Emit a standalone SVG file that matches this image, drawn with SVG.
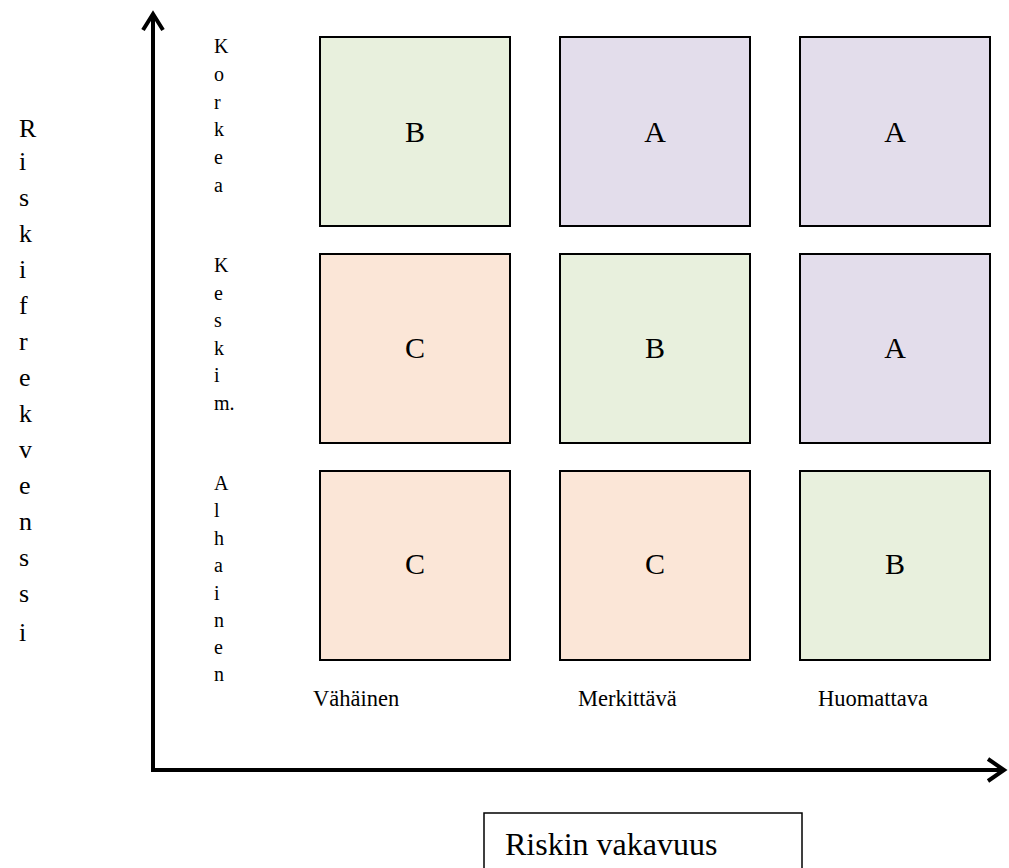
<svg xmlns="http://www.w3.org/2000/svg" width="1009" height="868" viewBox="0 0 1009 868">
<style>
text{font-family:"Liberation Serif","Times New Roman",serif;fill:#000}
.cell{stroke:#000;stroke-width:2}
.g{fill:#E8F0DD}
.p{fill:#E3DDEB}
.o{fill:#FBE6D7}
.lt{font-size:30px;text-anchor:middle}
.vl{font-size:20px}
.rl{font-size:26px}
.bl{font-size:22.5px}
.axis{stroke:#000;stroke-width:4;fill:none}
</style>
<g id="axes">
<path class="axis" d="M153,770 L153,14 M143,30 L153,14 L163,30"/>
<path class="axis" d="M151,770 L1004,770 M988,759 L1004,770 L988,781"/>
</g>
<g id="cell-r1c1"><rect class="cell g" x="320" y="37" width="190" height="189"/><text class="lt" x="415" y="142">B</text></g>
<g id="cell-r1c2"><rect class="cell p" x="560" y="37" width="190" height="189"/><text class="lt" x="655" y="142">A</text></g>
<g id="cell-r1c3"><rect class="cell p" x="800" y="37" width="190" height="189"/><text class="lt" x="895" y="142">A</text></g>
<g id="cell-r2c1"><rect class="cell o" x="320" y="254" width="190" height="189"/><text class="lt" x="415" y="358">C</text></g>
<g id="cell-r2c2"><rect class="cell g" x="560" y="254" width="190" height="189"/><text class="lt" x="655" y="358">B</text></g>
<g id="cell-r2c3"><rect class="cell p" x="800" y="254" width="190" height="189"/><text class="lt" x="895" y="358">A</text></g>
<g id="cell-r3c1"><rect class="cell o" x="320" y="471" width="190" height="189"/><text class="lt" x="415" y="574">C</text></g>
<g id="cell-r3c2"><rect class="cell o" x="560" y="471" width="190" height="189"/><text class="lt" x="655" y="574">C</text></g>
<g id="cell-r3c3"><rect class="cell g" x="800" y="471" width="190" height="189"/><text class="lt" x="895" y="574">B</text></g>
<g id="label-korkea"><text class="vl"><tspan x="214" y="53">K</tspan><tspan x="214" y="81">o</tspan><tspan x="214" y="109">r</tspan><tspan x="214" y="136">k</tspan><tspan x="214" y="164">e</tspan><tspan x="214" y="192">a</tspan></text></g>
<g id="label-keskim"><text class="vl"><tspan x="214" y="272">K</tspan><tspan x="214" y="300">e</tspan><tspan x="214" y="327">s</tspan><tspan x="214" y="355">k</tspan><tspan x="214" y="382">i</tspan><tspan x="214" y="410">m.</tspan></text></g>
<g id="label-alhainen"><text class="vl"><tspan x="214" y="490">A</tspan><tspan x="214" y="517">l</tspan><tspan x="214" y="545">h</tspan><tspan x="214" y="572">a</tspan><tspan x="214" y="600">i</tspan><tspan x="214" y="627">n</tspan><tspan x="214" y="654">e</tspan><tspan x="214" y="681">n</tspan></text></g>
<g id="label-riskifrekvenssi"><text class="rl"><tspan x="19" y="137">R</tspan><tspan x="19" y="170">i</tspan><tspan x="19" y="206">s</tspan><tspan x="19" y="242">k</tspan><tspan x="19" y="278">i</tspan><tspan x="19" y="314">f</tspan><tspan x="19" y="350">r</tspan><tspan x="19" y="386">e</tspan><tspan x="19" y="422">k</tspan><tspan x="19" y="458">v</tspan><tspan x="19" y="494">e</tspan><tspan x="19" y="530">n</tspan><tspan x="19" y="566">s</tspan><tspan x="19" y="602">s</tspan><tspan x="19" y="641">i</tspan></text></g>
<g id="label-vahainen"><text class="bl" x="313" y="706">Vähäinen</text></g>
<g id="label-merkittava"><text class="bl" x="578" y="706">Merkittävä</text></g>
<g id="label-huomattava"><text class="bl" x="818" y="706">Huomattava</text></g>
<g id="label-riskin-vakavuus"><rect x="484" y="813" width="318" height="70" fill="#fff" stroke="#000" stroke-width="1.5"/><text x="505" y="855" style="font-size:32px">Riskin vakavuus</text></g>
</svg>
